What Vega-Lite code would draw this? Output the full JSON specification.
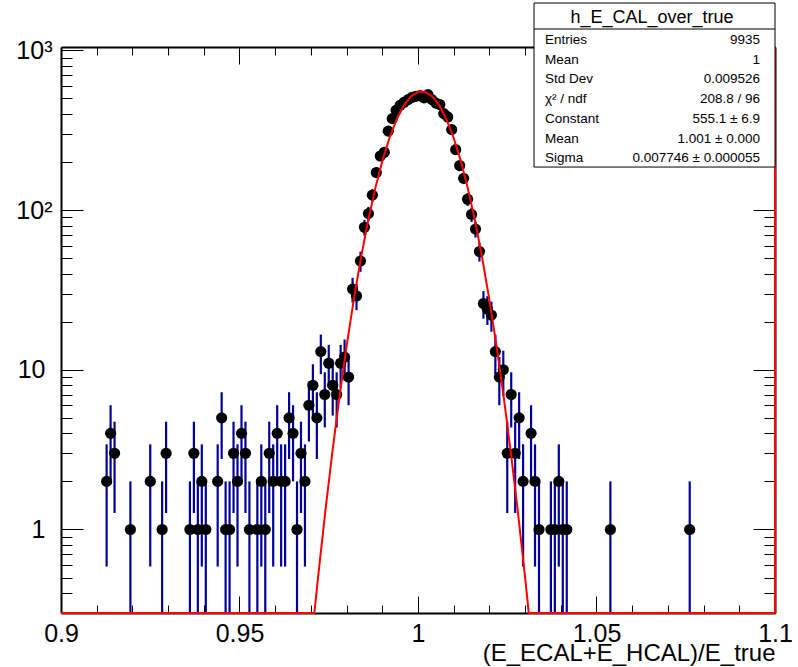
{
  "$schema": "https://vega.github.io/schema/vega-lite/v6.json",
  "width": 714,
  "height": 566,
  "autosize": {"type": "none"},
  "padding": {"left": 61, "top": 47, "right": 23, "bottom": 54},
  "background": "white",
  "config": {
    "view": {"stroke": null},
    "axis": {"grid": false, "labelFont": "Liberation Sans", "titleFont": "Liberation Sans", "labelColor": "#000", "titleColor": "#000", "tickColor": "#000", "domainColor": "#000", "zindex": 0, "labelFlush": false, "labelOverlap": false, "labelBound": false}
  },
  "data": {"values": [{}]},
  "datasets": {
    "hist": [
      {"x": 0.91278, "n": 2, "lo": 0.586, "hi": 3.414},
      {"x": 0.91389, "n": 4, "lo": 2, "hi": 6},
      {"x": 0.91500, "n": 3, "lo": 1.268, "hi": 4.732},
      {"x": 0.91944, "n": 1, "lo": 0.3, "hi": 2},
      {"x": 0.92500, "n": 2, "lo": 0.586, "hi": 3.414},
      {"x": 0.92833, "n": 1, "lo": 0.3, "hi": 2},
      {"x": 0.92944, "n": 3, "lo": 1.268, "hi": 4.732},
      {"x": 0.93611, "n": 1, "lo": 0.3, "hi": 2},
      {"x": 0.93722, "n": 3, "lo": 1.268, "hi": 4.732},
      {"x": 0.93833, "n": 1, "lo": 0.3, "hi": 2},
      {"x": 0.93944, "n": 2, "lo": 0.586, "hi": 3.414},
      {"x": 0.94056, "n": 1, "lo": 0.3, "hi": 2},
      {"x": 0.94389, "n": 2, "lo": 0.586, "hi": 3.414},
      {"x": 0.94500, "n": 5, "lo": 2.764, "hi": 7.236},
      {"x": 0.94611, "n": 1, "lo": 0.3, "hi": 2},
      {"x": 0.94722, "n": 1, "lo": 0.3, "hi": 2},
      {"x": 0.94833, "n": 3, "lo": 1.268, "hi": 4.732},
      {"x": 0.94944, "n": 2, "lo": 0.586, "hi": 3.414},
      {"x": 0.95056, "n": 4, "lo": 2, "hi": 6},
      {"x": 0.95167, "n": 3, "lo": 1.268, "hi": 4.732},
      {"x": 0.95278, "n": 1, "lo": 0.3, "hi": 2},
      {"x": 0.95500, "n": 1, "lo": 0.3, "hi": 2},
      {"x": 0.95611, "n": 2, "lo": 0.586, "hi": 3.414},
      {"x": 0.95722, "n": 1, "lo": 0.3, "hi": 2},
      {"x": 0.95833, "n": 3, "lo": 1.268, "hi": 4.732},
      {"x": 0.95944, "n": 2, "lo": 0.586, "hi": 3.414},
      {"x": 0.96056, "n": 4, "lo": 2, "hi": 6},
      {"x": 0.96167, "n": 2, "lo": 0.586, "hi": 3.414},
      {"x": 0.96278, "n": 2, "lo": 0.586, "hi": 3.414},
      {"x": 0.96389, "n": 5, "lo": 2.764, "hi": 7.236},
      {"x": 0.96500, "n": 4, "lo": 2, "hi": 6},
      {"x": 0.96611, "n": 1, "lo": 0.3, "hi": 2},
      {"x": 0.96722, "n": 3, "lo": 1.268, "hi": 4.732},
      {"x": 0.96833, "n": 2, "lo": 0.586, "hi": 3.414},
      {"x": 0.96944, "n": 6, "lo": 3.551, "hi": 8.449},
      {"x": 0.97056, "n": 8, "lo": 5.172, "hi": 10.828},
      {"x": 0.97167, "n": 5, "lo": 2.764, "hi": 7.236},
      {"x": 0.97278, "n": 13, "lo": 9.394, "hi": 16.606},
      {"x": 0.97389, "n": 7, "lo": 4.354, "hi": 9.646},
      {"x": 0.97500, "n": 11, "lo": 7.683, "hi": 14.317},
      {"x": 0.97611, "n": 8, "lo": 5.172, "hi": 10.828},
      {"x": 0.97722, "n": 7, "lo": 4.354, "hi": 9.646},
      {"x": 0.97833, "n": 11, "lo": 7.683, "hi": 14.317},
      {"x": 0.97944, "n": 12, "lo": 8.536, "hi": 15.464},
      {"x": 0.98056, "n": 9, "lo": 6, "hi": 12},
      {"x": 0.98167, "n": 32, "lo": 26.343, "hi": 37.657},
      {"x": 0.98278, "n": 29, "lo": 23.615, "hi": 34.385},
      {"x": 0.98389, "n": 48, "lo": 41.072, "hi": 54.928},
      {"x": 0.98500, "n": 78, "lo": 69.168, "hi": 86.832},
      {"x": 0.98611, "n": 95, "lo": 85.253, "hi": 104.747},
      {"x": 0.98722, "n": 124, "lo": 112.864, "hi": 135.136},
      {"x": 0.98833, "n": 172, "lo": 158.885, "hi": 185.115},
      {"x": 0.98944, "n": 218, "lo": 203.235, "hi": 232.765},
      {"x": 0.99056, "n": 230, "lo": 214.834, "hi": 245.166},
      {"x": 0.99167, "n": 312, "lo": 294.337, "hi": 329.663},
      {"x": 0.99278, "n": 374, "lo": 354.661, "hi": 393.339},
      {"x": 0.99389, "n": 422, "lo": 401.457, "hi": 442.543},
      {"x": 0.99500, "n": 453, "lo": 431.716, "hi": 474.284},
      {"x": 0.99611, "n": 473, "lo": 451.251, "hi": 494.749},
      {"x": 0.99722, "n": 492, "lo": 469.819, "hi": 514.181},
      {"x": 0.99833, "n": 508, "lo": 485.461, "hi": 530.539},
      {"x": 0.99944, "n": 516, "lo": 493.284, "hi": 538.716},
      {"x": 1.00056, "n": 521, "lo": 498.175, "hi": 543.825},
      {"x": 1.00167, "n": 504, "lo": 481.550, "hi": 526.450},
      {"x": 1.00278, "n": 528, "lo": 505.022, "hi": 550.978},
      {"x": 1.00389, "n": 492, "lo": 469.819, "hi": 514.181},
      {"x": 1.00500, "n": 468, "lo": 446.367, "hi": 489.633},
      {"x": 1.00611, "n": 458, "lo": 436.599, "hi": 479.401},
      {"x": 1.00722, "n": 402, "lo": 381.950, "hi": 422.050},
      {"x": 1.00833, "n": 383, "lo": 363.430, "hi": 402.570},
      {"x": 1.00944, "n": 319, "lo": 301.139, "hi": 336.861},
      {"x": 1.01056, "n": 239, "lo": 223.540, "hi": 254.460},
      {"x": 1.01167, "n": 190, "lo": 176.216, "hi": 203.784},
      {"x": 1.01278, "n": 158, "lo": 145.430, "hi": 170.570},
      {"x": 1.01389, "n": 117, "lo": 106.183, "hi": 127.817},
      {"x": 1.01500, "n": 94, "lo": 84.305, "hi": 103.695},
      {"x": 1.01611, "n": 76, "lo": 67.282, "hi": 84.718},
      {"x": 1.01722, "n": 55, "lo": 47.584, "hi": 62.416},
      {"x": 1.01833, "n": 26, "lo": 20.901, "hi": 31.099},
      {"x": 1.01944, "n": 24, "lo": 19.101, "hi": 28.899},
      {"x": 1.02056, "n": 22, "lo": 17.310, "hi": 26.690},
      {"x": 1.02167, "n": 13, "lo": 9.394, "hi": 16.606},
      {"x": 1.02278, "n": 9, "lo": 6, "hi": 12},
      {"x": 1.02389, "n": 10, "lo": 6.838, "hi": 13.162},
      {"x": 1.02500, "n": 3, "lo": 1.268, "hi": 4.732},
      {"x": 1.02611, "n": 7, "lo": 4.354, "hi": 9.646},
      {"x": 1.02722, "n": 3, "lo": 1.268, "hi": 4.732},
      {"x": 1.02833, "n": 5, "lo": 2.764, "hi": 7.236},
      {"x": 1.02944, "n": 2, "lo": 0.586, "hi": 3.414},
      {"x": 1.03167, "n": 4, "lo": 2, "hi": 6},
      {"x": 1.03278, "n": 2, "lo": 0.586, "hi": 3.414},
      {"x": 1.03389, "n": 1, "lo": 0.3, "hi": 2},
      {"x": 1.03722, "n": 1, "lo": 0.3, "hi": 2},
      {"x": 1.03833, "n": 1, "lo": 0.3, "hi": 2},
      {"x": 1.03944, "n": 2, "lo": 0.586, "hi": 3.414},
      {"x": 1.04056, "n": 1, "lo": 0.3, "hi": 2},
      {"x": 1.04167, "n": 1, "lo": 0.3, "hi": 2},
      {"x": 1.05389, "n": 1, "lo": 0.3, "hi": 2},
      {"x": 1.07611, "n": 1, "lo": 0.3, "hi": 2}
    ],
    "curve": [
      {"x": 0.900, "y": 0.3},
      {"x": 0.97097, "y": 0.3},
      {"x": 0.972, "y": 0.502},
      {"x": 0.974, "y": 1.276},
      {"x": 0.976, "y": 3.04},
      {"x": 0.978, "y": 6.76},
      {"x": 0.980, "y": 14.07},
      {"x": 0.982, "y": 27.42},
      {"x": 0.984, "y": 49.96},
      {"x": 0.986, "y": 85.1},
      {"x": 0.988, "y": 135.8},
      {"x": 0.990, "y": 202.6},
      {"x": 0.992, "y": 282.7},
      {"x": 0.994, "y": 369.0},
      {"x": 0.996, "y": 450.7},
      {"x": 0.998, "y": 515.0},
      {"x": 1.000, "y": 550.5},
      {"x": 1.002, "y": 550.5},
      {"x": 1.004, "y": 515.0},
      {"x": 1.006, "y": 450.7},
      {"x": 1.008, "y": 369.0},
      {"x": 1.010, "y": 282.7},
      {"x": 1.012, "y": 202.6},
      {"x": 1.014, "y": 135.8},
      {"x": 1.016, "y": 85.1},
      {"x": 1.018, "y": 49.96},
      {"x": 1.020, "y": 27.42},
      {"x": 1.022, "y": 14.07},
      {"x": 1.024, "y": 6.76},
      {"x": 1.026, "y": 3.04},
      {"x": 1.028, "y": 1.276},
      {"x": 1.030, "y": 0.502},
      {"x": 1.03103, "y": 0.3},
      {"x": 1.100, "y": 0.3}
    ],
    "edge": [{"x": 1.1, "y0": 0.3, "y1": 1050}]
  },
  "resolve": {"axis": {"x": "independent", "y": "independent"}},
  "layer": [
    {
      "data": {"name": "edge"},
      "mark": {"type": "rule", "color": "#ff0000", "strokeWidth": 2},
      "encoding": {
        "x": {"field": "x", "type": "quantitative", "scale": {"domain": [0.9, 1.1], "nice": false, "zero": false},
              "axis": {"orient": "top", "values": [0.91,0.92,0.93,0.94,0.96,0.97,0.98,0.99,1.01,1.02,1.03,1.04,1.06,1.07,1.08,1.09], "tickSize": -8, "tickWidth": 1, "labels": false, "domain": false, "title": null}},
        "y": {"field": "y0", "type": "quantitative", "scale": {"type": "log", "domain": [0.3, 1050], "nice": false},
              "axis": {"orient": "right", "values": [0.3,0.4,0.5,0.6,0.7,0.8,0.9,2,3,4,5,6,7,8,9,20,30,40,50,60,70,80,90,200,300,400,500,600,700,800,900], "tickSize": -11, "tickWidth": 1, "labels": false, "domain": false, "title": null}},
        "y2": {"field": "y1"}
      }
    },
    {
      "data": {"name": "hist"},
      "mark": {"type": "rule", "color": "#000099", "strokeWidth": 2.2},
      "encoding": {
        "x": {"field": "x", "type": "quantitative",
              "axis": {"orient": "bottom", "values": [0.9, 0.95, 1, 1.05, 1.1], "tickSize": -17, "tickWidth": 1, "labelPadding": 25, "labelFontSize": 25, "labelExpr": "'' + datum.value", "domain": true, "domainWidth": 2,
                       "title": "(E_ECAL+E_HCAL)/E_true", "titleFontSize": 24, "titleFontWeight": "normal", "titleAlign": "right", "titleAnchor": "end", "titleBaseline": "middle", "titleX": 714, "titleY": 40, "titleAngle": 0}},
        "y": {"field": "lo", "type": "quantitative",
              "axis": {"orient": "left", "values": [1, 10, 100, 1000], "tickSize": -22, "tickWidth": 1, "labelPadding": 38, "labelFontSize": 25, "labelExpr": "datum.value >= 100 ? '' : '' + datum.value", "labelBaseline": "middle", "domain": true, "domainWidth": 2, "title": null}},
        "y2": {"field": "hi"}
      }
    },
    {
      "data": {"name": "hist"},
      "mark": {"type": "point", "filled": true, "color": "#000000", "size": 125, "opacity": 1},
      "encoding": {
        "x": {"field": "x", "type": "quantitative",
              "axis": {"orient": "top", "values": [0.9, 0.95, 1, 1.05, 1.1], "tickSize": -17, "tickWidth": 1, "labels": false, "domain": true, "domainWidth": 2, "title": null}},
        "y": {"field": "n", "type": "quantitative",
              "axis": {"orient": "right", "values": [1, 10, 100, 1000], "tickSize": -22, "tickWidth": 1, "labels": false, "domain": true, "domainWidth": 2, "title": null}}
      }
    },
    {
      "data": {"name": "curve"},
      "mark": {"type": "line", "color": "#ff0000", "strokeWidth": 2},
      "encoding": {
        "x": {"field": "x", "type": "quantitative",
              "axis": {"orient": "bottom", "values": [0.91,0.92,0.93,0.94,0.96,0.97,0.98,0.99,1.01,1.02,1.03,1.04,1.06,1.07,1.08,1.09], "tickSize": -8, "tickWidth": 1, "labels": false, "domain": false, "title": null}},
        "y": {"field": "y", "type": "quantitative",
              "axis": {"orient": "left", "values": [0.3,0.4,0.5,0.6,0.7,0.8,0.9,2,3,4,5,6,7,8,9,20,30,40,50,60,70,80,90,100,200,300,400,500,600,700,800,900,1000], "tickSize": -11, "tickWidth": 1, "labelPadding": 20, "labelFontSize": 25, "labelBaseline": "middle", "labelExpr": "datum.value == 100 ? '10²' : datum.value == 1000 ? '10³' : ''", "domain": false, "title": null}}
      }
    },
    {
      "mark": {"type": "rect", "fill": "white", "stroke": "black", "strokeWidth": 1},
      "encoding": {
        "x": {"datum": 1.0325, "type": "quantitative", "axis": null},
        "x2": {"datum": 1.1},
        "y": {"datum": 1980, "type": "quantitative", "axis": null},
        "y2": {"datum": 186}
      }
    },
    {
      "mark": {"type": "rule", "color": "black", "strokeWidth": 1},
      "encoding": {
        "x": {"datum": 1.0325, "type": "quantitative", "axis": null},
        "x2": {"datum": 1.1},
        "y": {"datum": 1361, "type": "quantitative", "axis": null}
      }
    },
    {
      "mark": {"type": "text", "text": "h_E_CAL_over_true", "font": "Liberation Sans", "fontSize": 18, "align": "center", "baseline": "middle", "color": "black"},
      "encoding": {
        "x": {"datum": 1.06555, "type": "quantitative", "axis": null},
        "y": {"datum": 1595, "type": "quantitative", "axis": null}
      }
    },
    {
      "mark": {"type": "text", "text": "Entries\nMean\nStd Dev\nχ² / ndf\nConstant\nMean\nSigma", "lineBreak": "\n", "lineHeight": 19.7, "font": "Liberation Sans", "fontSize": 13.5, "align": "left", "baseline": "middle", "color": "black"},
      "encoding": {
        "x": {"datum": 1.03557, "type": "quantitative", "axis": null},
        "y": {"datum": 1161, "type": "quantitative", "axis": null}
      }
    },
    {
      "mark": {"type": "text", "text": "9935\n1\n0.009526\n208.8 / 96\n555.1 ± 6.9\n1.001 ± 0.000\n0.007746 ± 0.000055", "lineBreak": "\n", "lineHeight": 19.7, "font": "Liberation Sans", "fontSize": 13.5, "align": "right", "baseline": "middle", "color": "black"},
      "encoding": {
        "x": {"datum": 1.0958, "type": "quantitative", "axis": null},
        "y": {"datum": 1161, "type": "quantitative", "axis": null}
      }
    }
  ]
}
